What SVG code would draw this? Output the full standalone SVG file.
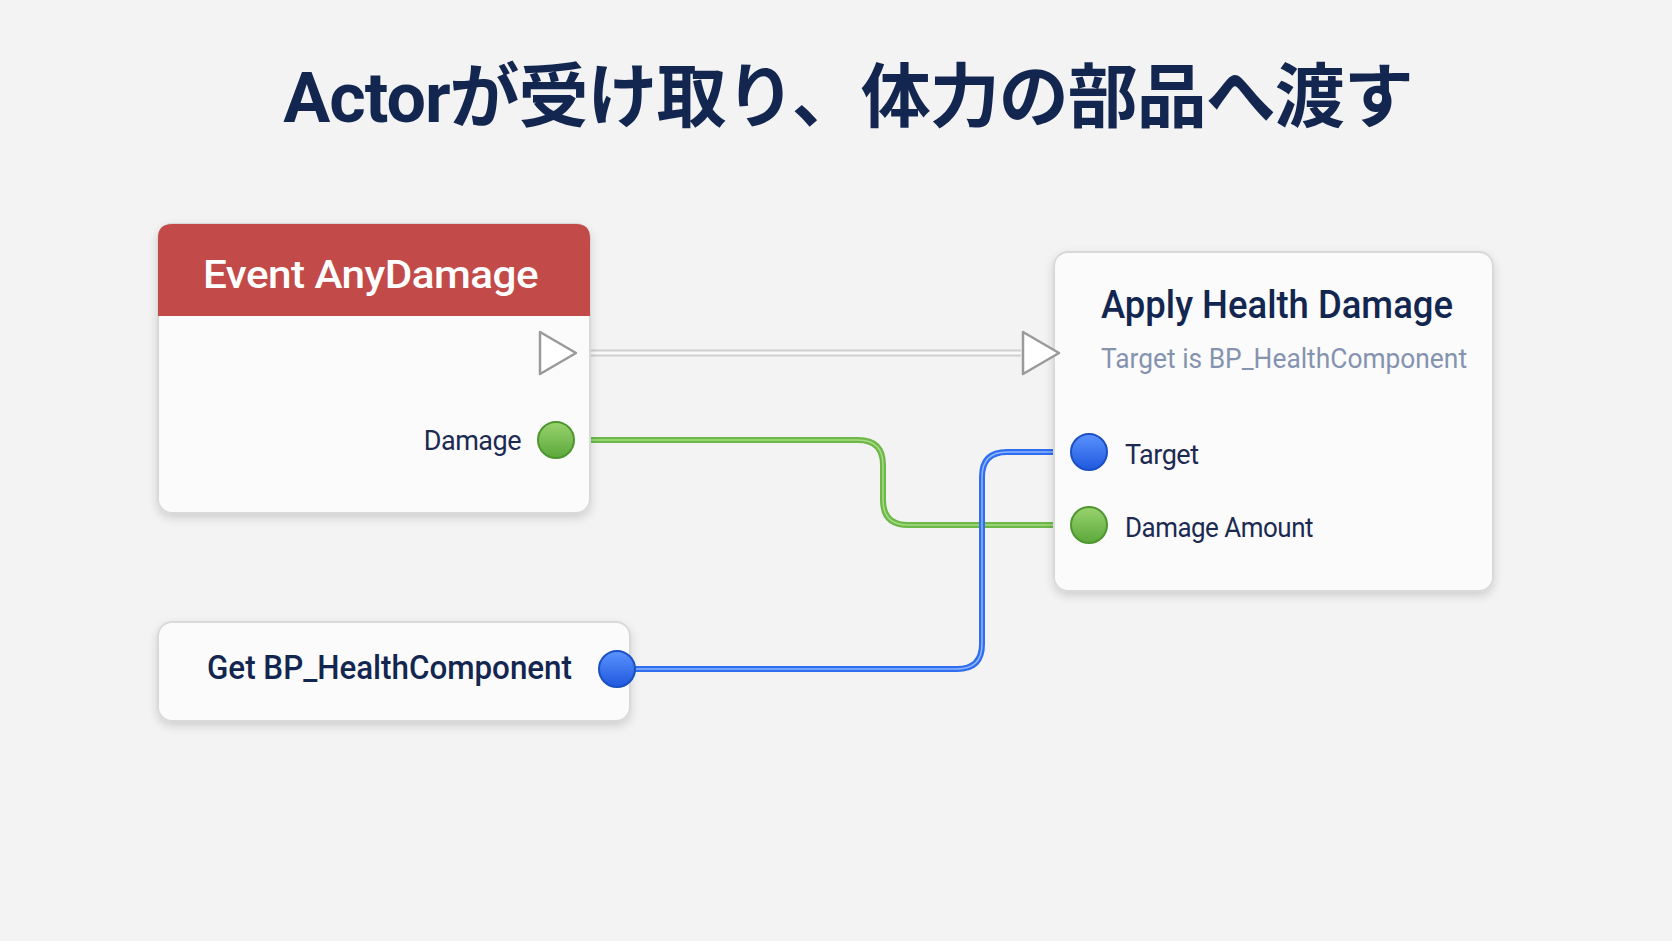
<svg xmlns="http://www.w3.org/2000/svg" width="1672" height="941" viewBox="0 0 1672 941">
<defs>
<style>
.t{font-family:Roboto,"Liberation Sans","Noto Sans CJK JP",sans-serif}
.node{fill:#fbfbfb;stroke:#d9d9d9;stroke-width:2}
.lbl{font-size:27px;fill:#1c2a52;letter-spacing:-0.5px}
</style>
<filter id="sh" x="-10%" y="-10%" width="120%" height="130%"><feDropShadow dx="0" dy="4" stdDeviation="5" flood-color="#000" flood-opacity="0.15"/></filter>
<linearGradient id="gg" x1="0" y1="0" x2="0" y2="1"><stop offset="0" stop-color="#9ad36f"/><stop offset="1" stop-color="#5aa83a"/></linearGradient>
<linearGradient id="bg" x1="0" y1="0" x2="0" y2="1"><stop offset="0" stop-color="#5b93ff"/><stop offset="1" stop-color="#1f58dd"/></linearGradient>
</defs>
<rect width="1672" height="941" fill="#f3f3f3"/>
<text class="t" x="848" y="122" text-anchor="middle" font-size="70" font-weight="700" fill="#132650" letter-spacing="-1">Actorが受け取り、体力の部品へ渡す</text>
<g id="connectors" fill="none">
<line x1="577" y1="353" x2="1021" y2="353" stroke="#cfcfcf" stroke-width="7"/>
<line x1="577" y1="353" x2="1021" y2="353" stroke="#fafafa" stroke-width="3"/>
<path d="M556 440 H858 Q883 440 883 465 V500 Q883 525 908 525 H1089" stroke="#6db848" stroke-width="6"/>
<path d="M556 440 H858 Q883 440 883 465 V500 Q883 525 908 525 H1089" stroke="#a6da84" stroke-width="1.5"/>
<path d="M617 669 H957 Q982 669 982 644 V477 Q982 452 1007 452 H1089" stroke="#2f6ef0" stroke-width="6"/>
<path d="M617 669 H957 Q982 669 982 644 V477 Q982 452 1007 452 H1089" stroke="#8fb6ff" stroke-width="1.5"/>
</g>
<g id="event-anydamage">
<rect class="node" x="158" y="224" width="432" height="289" rx="14" filter="url(#sh)"/>
<path d="M158 316 V238 Q158 224 172 224 H576 Q590 224 590 238 V316 Z" fill="#c24a48"/>
<text class="t" x="203" y="288" font-size="38" font-weight="500" fill="#fff" letter-spacing="-0.5" textLength="335" lengthAdjust="spacingAndGlyphs">Event AnyDamage</text>
<path d="M540 332 L576 353 L540 374 Z" fill="#fff" stroke="#9a9a9a" stroke-width="2.5" stroke-linejoin="round"/>
<text class="t lbl" x="521" y="450" text-anchor="end">Damage</text>
<circle cx="556" cy="440" r="18" fill="url(#gg)" stroke="#4e9630" stroke-width="2"/>
</g>
<g id="apply-health-damage">
<rect class="node" x="1054" y="252" width="439" height="339" rx="14" filter="url(#sh)"/>
<text class="t" x="1101" y="318" font-size="38" font-weight="500" fill="#132650" textLength="352" lengthAdjust="spacingAndGlyphs">Apply Health Damage</text>
<text class="t" x="1101" y="368" font-size="27" fill="#8593b0" textLength="366" lengthAdjust="spacingAndGlyphs">Target is BP_HealthComponent</text>
<path d="M1023 332 L1059 353 L1023 374 Z" fill="#fff" stroke="#9a9a9a" stroke-width="2.5" stroke-linejoin="round"/>
<circle cx="1089" cy="452" r="18" fill="url(#bg)" stroke="#1b4fc4" stroke-width="2"/>
<text class="t lbl" x="1125" y="464">Target</text>
<circle cx="1089" cy="525" r="18" fill="url(#gg)" stroke="#4e9630" stroke-width="2"/>
<text class="t lbl" x="1125" y="537" textLength="188" lengthAdjust="spacingAndGlyphs">Damage Amount</text>
</g>
<g id="get-bp-healthcomponent">
<rect class="node" x="158" y="622" width="472" height="99" rx="14" filter="url(#sh)"/>
<text class="t" x="207" y="679" font-size="33" font-weight="500" fill="#132650" textLength="365" lengthAdjust="spacingAndGlyphs">Get BP_HealthComponent</text>
<circle cx="617" cy="669" r="18" fill="url(#bg)" stroke="#1b4fc4" stroke-width="2"/>
</g>
</svg>
